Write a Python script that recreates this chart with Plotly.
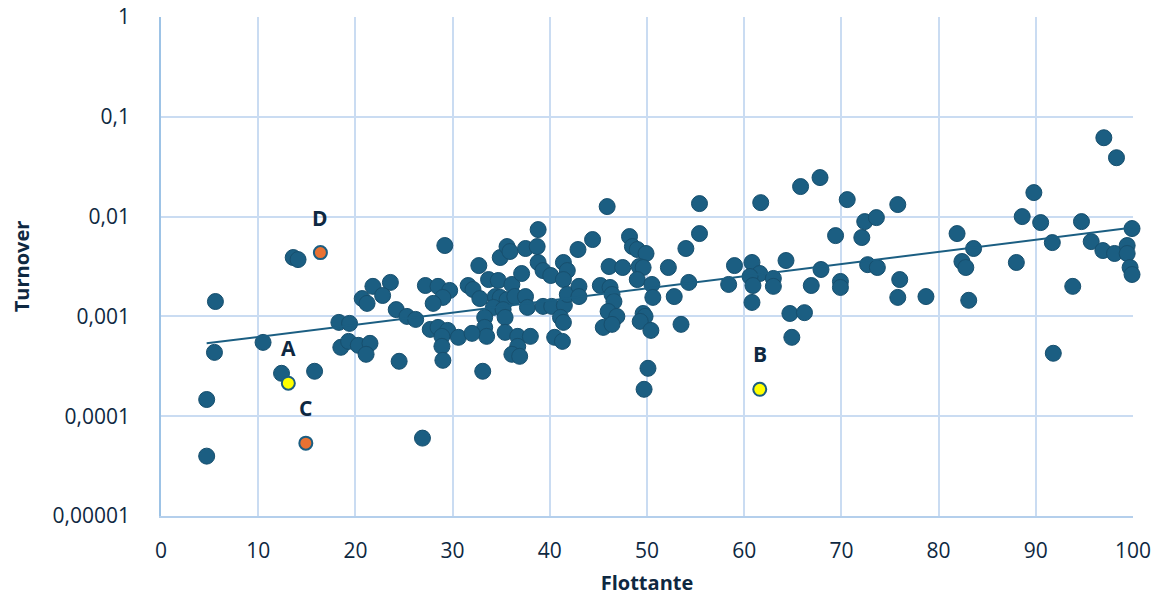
import numpy as np
import plotly.graph_objects as go

# Main sample: Flottante (%) and Turnover
flottante = [
    4.7, 4.7, 5.6, 5.5, 10.5, 12.4, 13.6, 14.1, 15.8, 18.3, 19.4, 18.5, 19.3, 20.3, 21.5, 21.1,
    20.7, 21.2, 21.8, 23.6, 22.8, 24.2, 24.5, 26.9,
    25.3, 26.2, 27.2, 28.5, 29.7, 29.0, 28.0, 29.2, 31.6, 32.1, 32.8, 32.7, 33.7, 34.7, 34.9,
    38.8, 35.6, 35.9, 37.5, 38.7, 38.8, 39.3, 40.1, 41.4, 41.8, 41.4, 42.9, 44.4, 36.1, 37.1,
    34.4, 34.9, 35.6, 36.4, 37.5, 37.7, 34.2, 35.2, 33.3, 35.4, 33.3, 33.5, 35.4, 27.7, 28.5,
    29.5, 30.6, 32.0, 28.9, 28.9, 29.0, 36.7, 36.7, 38.0, 36.1, 36.9, 33.1, 39.3, 40.2, 41.5,
    41.8, 43.0, 43.0, 41.1, 41.4, 40.5, 41.3,
    45.9, 48.2, 48.5, 49.0, 49.9, 46.1, 47.5, 49.2, 49.6, 49.0, 54.0, 52.2, 54.3, 50.5, 50.6,
    52.8, 45.2, 46.2, 46.4, 46.6, 46.0, 46.9, 45.5, 46.4, 49.6, 49.8, 49.3, 50.4, 53.5, 50.1,
    49.7, 55.4, 55.4,
    61.7, 65.8, 67.8, 70.6, 69.4, 59.0, 60.8, 61.6, 60.6, 60.9, 58.4, 60.8, 63.0, 63.0, 64.3,
    66.9, 64.7, 66.2, 64.9, 67.9, 69.9, 69.9, 72.1, 72.4, 73.6, 72.7, 73.7,
    75.8, 76.0, 75.8, 78.7, 81.9, 83.6, 82.4, 82.8, 83.1, 88.6, 89.8, 90.5, 88.0, 91.7, 94.7,
    95.7, 97.0, 98.3, 93.8, 91.8, 96.9, 98.1, 99.4, 99.4, 99.9, 99.7, 99.9,
]
turnover = [
    3.98e-5, 1.47e-4, 1.41e-3, 4.36e-4, 5.49e-4, 2.69e-4, 3.89e-3, 3.71e-3, 2.82e-4, 8.71e-4,
    8.51e-4, 4.90e-4, 5.62e-4, 5.13e-4, 5.37e-4, 4.17e-4, 1.51e-3, 1.35e-3, 2.00e-3, 2.19e-3,
    1.62e-3, 1.17e-3, 3.55e-4, 6.03e-5,
    1.00e-3, 9.33e-4, 2.04e-3, 2.00e-3, 1.82e-3, 1.55e-3, 1.35e-3, 5.13e-3, 2.04e-3, 1.86e-3,
    1.51e-3, 3.23e-3, 2.34e-3, 2.29e-3, 3.89e-3, 7.41e-3, 5.01e-3, 4.47e-3, 4.79e-3, 5.01e-3,
    3.47e-3, 2.88e-3, 2.57e-3, 3.47e-3, 2.88e-3, 2.34e-3, 4.68e-3, 5.89e-3, 2.09e-3, 2.69e-3,
    1.58e-3, 1.55e-3, 1.47e-3, 1.58e-3, 1.58e-3, 1.23e-3, 1.23e-3, 1.17e-3, 9.77e-4, 9.77e-4,
    7.76e-4, 6.31e-4, 6.92e-4, 7.41e-4, 7.76e-4, 7.24e-4, 6.17e-4, 6.76e-4, 6.31e-4, 5.01e-4,
    3.63e-4, 6.31e-4, 5.01e-4, 6.31e-4, 4.17e-4, 3.98e-4, 2.82e-4, 1.26e-3, 1.26e-3, 1.29e-3,
    1.66e-3, 2.00e-3, 1.58e-3, 9.77e-4, 8.71e-4, 6.17e-4, 5.62e-4,
    1.26e-2, 6.31e-3, 5.01e-3, 4.68e-3, 4.27e-3, 3.16e-3, 3.09e-3, 3.16e-3, 3.09e-3, 2.34e-3,
    4.79e-3, 3.09e-3, 2.19e-3, 2.09e-3, 1.55e-3, 1.58e-3, 2.04e-3, 1.95e-3, 1.66e-3, 1.41e-3,
    1.12e-3, 1.00e-3, 7.76e-4, 8.32e-4, 1.07e-3, 1.00e-3, 8.91e-4, 7.24e-4, 8.32e-4, 3.02e-4,
    1.86e-4, 1.35e-2, 6.76e-3,
    1.38e-2, 2.00e-2, 2.46e-2, 1.48e-2, 6.45e-3, 3.23e-3, 3.47e-3, 2.69e-3, 2.51e-3, 2.04e-3,
    2.09e-3, 1.38e-3, 2.40e-3, 2.00e-3, 3.63e-3, 2.04e-3, 1.07e-3, 1.09e-3, 6.17e-4, 2.95e-3,
    2.24e-3, 1.95e-3, 6.17e-3, 8.91e-3, 9.77e-3, 3.30e-3, 3.09e-3,
    1.32e-2, 2.34e-3, 1.55e-3, 1.58e-3, 6.76e-3, 4.79e-3, 3.55e-3, 3.09e-3, 1.45e-3, 1.00e-2,
    1.74e-2, 8.71e-3, 3.47e-3, 5.49e-3, 8.91e-3, 5.62e-3, 6.17e-2, 3.89e-2, 2.00e-3, 4.27e-4,
    4.57e-3, 4.27e-3, 5.13e-3, 4.27e-3, 7.59e-3, 3.09e-3, 2.63e-3,
]

# Highlighted companies
hl_labels = ["A", "B", "C", "D"]
hl_flottante = [13.1, 61.6, 14.9, 16.4]
hl_turnover = [2.14e-4, 1.86e-4, 5.37e-5, 4.36e-3]
hl_colors = ["#FFFF00", "#FFFF00", "#E97132", "#E97132"]

y_tickvals = [1e-5, 1e-4, 1e-3, 1e-2, 1e-1, 1]
y_ticktext = ["0,00001", "0,0001", "0,001", "0,01", "0,1", "1"]
x_tickvals = list(range(0, 101, 10))

# Exponential trendline fitted on all points
all_x = np.array(flottante + hl_flottante)
all_y = np.array(turnover + hl_turnover)
slope, intercept = np.polyfit(all_x, np.log10(all_y), 1)
tx = np.array([all_x.min(), 100.0])
ty = 10 ** (intercept + slope * tx)

TEXT = "#0E2841"
GRID = "#CADCF2"
MARK = "#1B5E82"

fig = go.Figure()
fig.add_trace(go.Scatter(
    x=flottante, y=turnover, mode="markers", cliponaxis=False,
    marker=dict(size=16, color=MARK, line=dict(color="#174F6E", width=1)),
    showlegend=False, hoverinfo="x+y"))
fig.add_trace(go.Scatter(
    x=tx, y=ty, mode="lines", cliponaxis=False,
    line=dict(color="#1B5E82", width=2), showlegend=False, hoverinfo="skip"))
fig.add_trace(go.Scatter(
    x=hl_flottante, y=hl_turnover, mode="markers", cliponaxis=False,
    marker=dict(size=13, color=hl_colors, line=dict(color=MARK, width=2)),
    showlegend=False, hoverinfo="x+y"))

for lab, xx, yy in zip(hl_labels, hl_flottante, hl_turnover):
    fig.add_annotation(x=xx, y=np.log10(yy), text="<b>%s</b>" % lab, showarrow=False,
                       yshift=35, font=dict(size=21, color=TEXT, family="Open Sans"))

fig.update_layout(
    width=1159, height=596,
    margin=dict(l=161, r=26, t=17, b=80, autoexpand=False),
    paper_bgcolor="white", plot_bgcolor="white",
    font=dict(family="Open Sans", color=TEXT, size=21),
)
fig.update_xaxes(
    range=[0, 100], tickvals=x_tickvals, showgrid=True, gridcolor=GRID, gridwidth=1.5,
    zeroline=False, showline=True, linecolor="#B4CFEC", linewidth=1.5,
    ticks="", ticklabelstandoff=15, automargin=False, ticklabeloverflow="allow",
    tickfont=dict(size=21, color=TEXT),
    title=dict(text="<b>Flottante</b>", font=dict(size=20, color=TEXT), standoff=30),
)
fig.update_yaxes(
    type="log", range=[-5, 0], tickvals=y_tickvals, ticktext=y_ticktext,
    showgrid=True, gridcolor=GRID, gridwidth=1.5,
    zeroline=False, showline=True, linecolor="#9DC3E6", linewidth=1.5,
    ticks="", ticklabelstandoff=25, automargin=False, ticklabeloverflow="allow",
    tickfont=dict(size=21, color=TEXT),
    title=dict(text="<b>Turnover</b>", font=dict(size=20, color=TEXT), standoff=18),
)

# remove the default 8px page margin so the figure sits at the window's top-left corner
fig.write_html("out.html", config={"displayModeBar": False},
               post_script="document.body.style.margin='0';")
